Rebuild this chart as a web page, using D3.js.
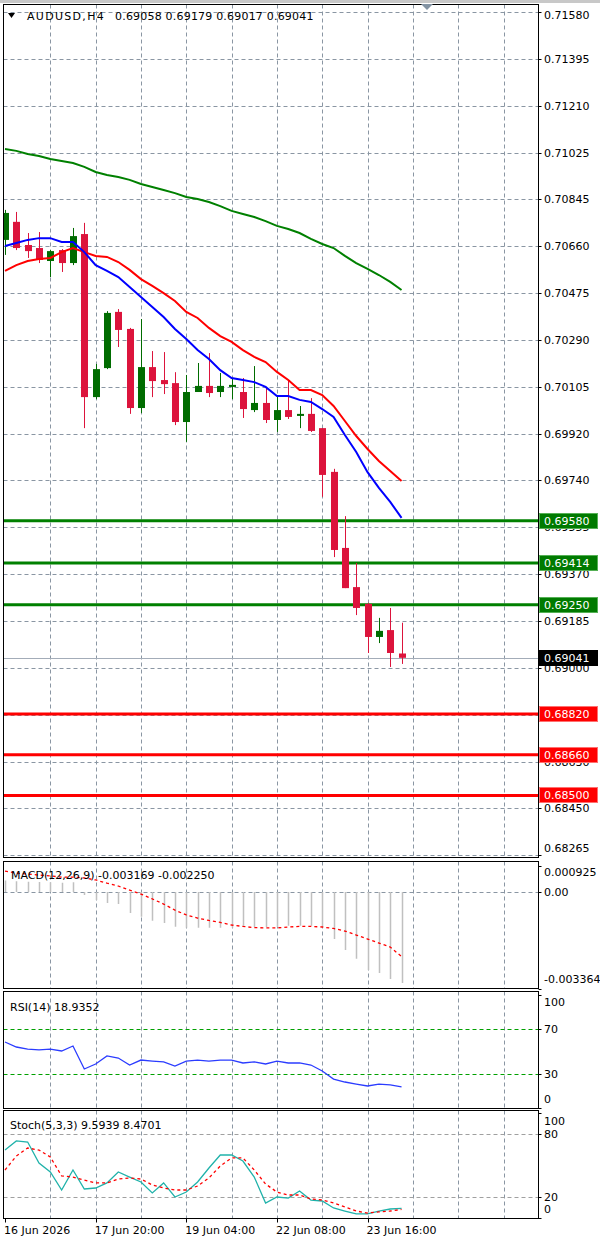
<!DOCTYPE html>
<html>
<head>
<meta charset="utf-8">
<script src="https://cdn.jsdelivr.net/npm/d3@7"></script>
<style>
body { margin: 0; background: #fff; }
svg { display: block; }
text { font-family: "DejaVu Sans", sans-serif; font-size: 11px; }
</style>
</head>
<body>
<script>
// AUDUSD H4 bars, oldest first
const opens  = [0.70684,0.70755,0.70664,0.70652,0.70601,0.70644,0.70593,0.70707,0.70066,0.70180,0.70401,0.70334,0.70023,0.70184,0.70133,0.70121,0.69968,0.70086,0.70110,0.70086,0.70106,0.70086,0.70015,0.70043,0.69976,0.70015,0.69992,0.70000,0.69944,0.69772,0.69473,0.69319,0.69253,0.69123,0.69150,0.69058];
const highs  = [0.70802,0.70794,0.70711,0.70715,0.70644,0.70648,0.70731,0.70751,0.70196,0.70404,0.70412,0.70338,0.70373,0.70247,0.70243,0.70164,0.70153,0.70200,0.70239,0.70161,0.70141,0.70141,0.70188,0.70102,0.70074,0.70133,0.70031,0.70062,0.69944,0.69784,0.69598,0.69414,0.69257,0.69198,0.69237,0.69179];
const lows   = [0.70625,0.70644,0.70613,0.70593,0.70538,0.70558,0.70585,0.69944,0.70058,0.70176,0.70263,0.70000,0.70003,0.70066,0.70078,0.69956,0.69890,0.70086,0.70066,0.70066,0.70058,0.69984,0.70007,0.69964,0.69929,0.69980,0.69944,0.69929,0.69674,0.69437,0.69315,0.69209,0.69060,0.69099,0.69005,0.69017];
const closes = [0.70790,0.70652,0.70640,0.70605,0.70640,0.70593,0.70699,0.70066,0.70176,0.70397,0.70330,0.70023,0.70184,0.70129,0.70117,0.69968,0.70086,0.70110,0.70082,0.70110,0.70114,0.70019,0.70043,0.69976,0.70015,0.69988,0.70000,0.69933,0.69760,0.69465,0.69315,0.69237,0.69123,0.69147,0.69060,0.69041];

// moving averages
const maFast = [0.70660,0.70672,0.70684,0.70691,0.70691,0.70676,0.70676,0.70636,0.70585,0.70562,0.70538,0.70499,0.70460,0.70420,0.70381,0.70334,0.70294,0.70251,0.70216,0.70172,0.70141,0.70133,0.70125,0.70106,0.70070,0.70070,0.70055,0.70047,0.70019,0.69988,0.69917,0.69850,0.69771,0.69709,0.69654,0.69591];
const maSlow = [0.70562,0.70585,0.70601,0.70609,0.70613,0.70636,0.70652,0.70636,0.70621,0.70617,0.70597,0.70566,0.70530,0.70503,0.70475,0.70444,0.70401,0.70377,0.70338,0.70306,0.70283,0.70251,0.70224,0.70204,0.70165,0.70133,0.70094,0.70094,0.70074,0.70031,0.69972,0.69913,0.69862,0.69815,0.69775,0.69736];
const maLong = [0.71041,0.71034,0.71022,0.71014,0.71002,0.70994,0.70986,0.70971,0.70951,0.70939,0.70931,0.70920,0.70904,0.70892,0.70880,0.70868,0.70853,0.70845,0.70833,0.70817,0.70798,0.70786,0.70774,0.70758,0.70739,0.70727,0.70711,0.70688,0.70668,0.70652,0.70621,0.70593,0.70570,0.70546,0.70519,0.70487];

const resistance = [0.69580, 0.69414, 0.69250];
const support = [0.68820, 0.68660, 0.68500];
const lastPrice = 0.69041;

const priceTicks = [0.71580,0.71395,0.71210,0.71025,0.70845,0.70660,0.70475,0.70290,0.70105,0.69920,0.69740,0.69555,0.69370,0.69185,0.69000,0.68815,0.68630,0.68450,0.68265];

// MACD(12,26,9)
const macdHist = [0.00040,0.00038,0.00036,0.00035,0.00034,0.00032,0.00034,-0.00010,-0.00028,-0.00038,-0.00042,-0.00073,-0.00086,-0.00100,-0.00108,-0.00121,-0.00125,-0.00125,-0.00125,-0.00125,-0.00125,-0.00122,-0.00122,-0.00122,-0.00122,-0.00118,-0.00118,-0.00118,-0.00124,-0.00164,-0.00202,-0.00233,-0.00272,-0.00282,-0.00303,-0.003169];
const macdSignal = [0.00073,0.00066,0.00063,0.00059,0.00056,0.00052,0.00052,0.00049,0.00042,0.00031,0.00021,0.00007,-0.00007,-0.00024,-0.00042,-0.00063,-0.00080,-0.00091,-0.00099,-0.00106,-0.00115,-0.00120,-0.00124,-0.00125,-0.00125,-0.00122,-0.00120,-0.00120,-0.00122,-0.00127,-0.00136,-0.00150,-0.00164,-0.00178,-0.00192,-0.00225];
const macdTicks = [0.000925, 0, -0.003364];
const macdTickText = ["0.000925", "0.00", "-0.003364"];

// RSI(14)
const rsiValues = [58.5,54.1,52.3,51.5,52.3,50.6,55.0,34.7,39.1,46.2,44.4,38.2,42.6,41.7,40.9,37.3,41.7,42.6,41.7,42.6,42.6,40.0,40.9,39.1,41.7,40.0,40.0,38.2,32.9,25.8,23.2,21.4,19.7,21.4,20.6,18.94];
const rsiTicks = [100, 70, 30, 0];
const rsiLevels = [70, 30];

// Stochastic(5,3,3)
const stochMain = [64.8,73.4,72.4,52.5,44.0,26.9,45.9,27.9,28.8,33.6,44.0,39.2,34.5,24.1,33.6,20.3,25.0,34.5,47.8,60.1,60.1,54.4,39.2,14.6,20.3,19.3,26.0,17.4,16.5,9.9,7.0,4.2,4.2,7.0,8.9,9.59];
const stochSignal = [45.9,59.1,66.7,64.8,58.2,40.2,39.2,36.4,33.6,33.6,37.3,38.3,37.3,31.7,28.8,26.9,26.9,30.7,38.3,49.7,57.3,57.3,45.9,32.6,25.0,22.2,22.2,18.4,17.4,14.6,10.8,7.0,5.1,6.1,7.0,8.47];
const stochTicks = [100, 80, 20, 0];
const stochLevels = [80, 20];

const timeLabels = [
    {bar: 0, text: "16 Jun 2026"},
    {bar: 8, text: "17 Jun 20:00"},
    {bar: 16, text: "19 Jun 04:00"},
    {bar: 24, text: "22 Jun 08:00"},
    {bar: 32, text: "23 Jun 16:00"}
];

var w = 600, h = 1237;
var left = 3.5, right = 538.5;
var gridColor = "#8a96a3";

var svg = d3.select("body").append("svg").attr("width", w).attr("height", h);

// top strip of the terminal window
svg.append("rect").attr("x", 0).attr("y", 0).attr("width", w).attr("height", 3).attr("fill", "#c8c8c8");

var x = d3.scaleLinear().domain([0, 47]).range([5, 537.5]);
var gridBars = d3.range(4, 47, 4);

var panels = {
    main:  {top: 4.5, bottom: 857.5},
    macd:  {top: 861.5, bottom: 988.5},
    rsi:   {top: 991.5, bottom: 1108.5},
    stoch: {top: 1110.5, bottom: 1218.5}
};

var yPrice = d3.scaleLinear().domain([0.68265, 0.71580]).range([855.2, 12]);
var yMacd = d3.scaleLinear().domain([-0.003364, 0.000925]).range([988.5, 865.5]);
var yRsi = d3.scaleLinear().domain([0, 100]).range([1108.3, 995]);
var yStoch = d3.scaleLinear().domain([0, 100]).range([1218.4, 1112.9]);

var defs = svg.append("defs");

function makePanel(name, p) {
    defs.append("clipPath").attr("id", "clip-" + name)
        .append("rect")
        .attr("x", left).attr("y", p.top)
        .attr("width", right - left).attr("height", p.bottom - p.top);
    var g = svg.append("g").attr("clip-path", "url(#clip-" + name + ")");
    // vertical grid
    g.selectAll("line.vgrid")
        .data(gridBars).enter()
        .append("line")
        .attr("class", "vgrid")
        .attr("x1", d => Math.round(x(d)) + 0.5)
        .attr("x2", d => Math.round(x(d)) + 0.5)
        .attr("y1", p.top).attr("y2", p.bottom)
        .attr("stroke", gridColor)
        .attr("stroke-dasharray", "4,3");
    return g;
}

function hGrid(g, values, scale, color) {
    g.selectAll(null)
        .data(values).enter()
        .append("line")
        .attr("x1", left).attr("x2", right)
        .attr("y1", d => Math.round(scale(d)) + 0.5)
        .attr("y2", d => Math.round(scale(d)) + 0.5)
        .attr("stroke", color)
        .attr("stroke-dasharray", "4,3");
}

function frame(p) {
    svg.append("rect")
        .attr("x", left).attr("y", p.top)
        .attr("width", right - left).attr("height", p.bottom - p.top)
        .attr("fill", "none").attr("stroke", "#000");
}

function axisLabels(p, values, texts, scale) {
    var g = svg.append("g");
    g.selectAll("line")
        .data(values).enter()
        .append("line")
        .attr("x1", right).attr("x2", right + 3)
        .attr("y1", d => Math.round(scale(d)) + 0.5)
        .attr("y2", d => Math.round(scale(d)) + 0.5)
        .attr("stroke", "#000");
    g.selectAll("text")
        .data(values).enter()
        .append("text")
        .attr("x", 544)
        .attr("y", d => Math.max(p.top + 11, Math.min(p.bottom - 9, scale(d))))
        .attr("dy", "0.35em")
        .text((d, i) => texts[i]);
}

// ---------- main price panel ----------
var pm = panels.main;
var gMain = makePanel("main", pm);
hGrid(gMain, priceTicks, yPrice, gridColor);

// support / resistance lines
gMain.selectAll("line.res")
    .data(resistance).enter()
    .append("line")
    .attr("x1", left).attr("x2", right)
    .attr("y1", d => yPrice(d)).attr("y2", d => yPrice(d))
    .attr("stroke", "#008000").attr("stroke-width", 3);

gMain.selectAll("line.sup")
    .data(support).enter()
    .append("line")
    .attr("x1", left).attr("x2", right)
    .attr("y1", d => yPrice(d)).attr("y2", d => yPrice(d))
    .attr("stroke", "#ff0000").attr("stroke-width", 3);

// bid line
gMain.append("line")
    .attr("x1", left).attr("x2", right)
    .attr("y1", Math.round(yPrice(lastPrice)) + 0.5).attr("y2", Math.round(yPrice(lastPrice)) + 0.5)
    .attr("stroke", "#a3acb8");

// candles
var bullColor = "#006c00", bearColor = "#dc143c";
var candles = gMain.selectAll("g.candle")
    .data(opens).enter()
    .append("g")
    .attr("fill", (d, i) => closes[i] >= d ? bullColor : bearColor)
    .attr("stroke", (d, i) => closes[i] >= d ? bullColor : bearColor);

candles.append("line")
    .attr("x1", (d, i) => Math.round(x(i)) + 0.5)
    .attr("x2", (d, i) => Math.round(x(i)) + 0.5)
    .attr("y1", (d, i) => yPrice(highs[i]))
    .attr("y2", (d, i) => yPrice(lows[i]));

candles.append("rect")
    .attr("stroke", "none")
    .attr("x", (d, i) => Math.round(x(i)) - 3)
    .attr("width", 7)
    .attr("y", (d, i) => yPrice(Math.max(d, closes[i])))
    .attr("height", (d, i) => Math.max(2, yPrice(Math.min(d, closes[i])) - yPrice(Math.max(d, closes[i]))));

// moving averages
var priceLine = d3.line().x((d, i) => x(i)).y(d => yPrice(d));
[[maLong, "#008000"], [maSlow, "#ff0000"], [maFast, "#0000ff"]].forEach(function (m) {
    gMain.append("path")
        .attr("d", priceLine(m[0]))
        .attr("fill", "none")
        .attr("stroke", m[1])
        .attr("stroke-width", 2);
});

frame(pm);
axisLabels(pm, priceTicks, priceTicks.map(d => d.toFixed(5)), yPrice);

// level price tags
function tag(value, fill, border) {
    var yy = Math.round(yPrice(value));
    svg.append("rect")
        .attr("x", 539.5).attr("y", yy - 7.5)
        .attr("width", 58).attr("height", 15)
        .attr("fill", fill).attr("stroke", border);
    svg.append("text")
        .attr("x", 544).attr("y", yy)
        .attr("dy", "0.36em")
        .attr("fill", "#fff")
        .text(value.toFixed(5));
}
resistance.forEach(v => tag(v, "#007a00", "#55b055"));
support.forEach(v => tag(v, "#ff0000", "#ff7070"));
tag(lastPrice, "#000", "#000");

// chart shift marker
svg.append("path").attr("d", "M421,4 L433,4 L427,10 Z").attr("fill", "#8393a3");

// title
svg.append("path").attr("d", "M8,13 L15,13 L11.5,18 Z").attr("fill", "#000");
svg.append("text").attr("x", 27).attr("y", 16).attr("dy", "0.35em").attr("letter-spacing", "1.3px").text("AUDUSD,H4");
svg.append("text").attr("x", 115).attr("y", 16).attr("dy", "0.35em").attr("letter-spacing", "0.2px")
    .text(opens[35].toFixed(5) + " " + highs[35].toFixed(5) + " " + lows[35].toFixed(5) + " " + closes[35].toFixed(5));

// ---------- MACD ----------
var pmacd = panels.macd;
var gMacd = makePanel("macd", pmacd);
hGrid(gMacd, [0], yMacd, gridColor);

gMacd.selectAll("line.hist")
    .data(macdHist).enter()
    .append("line")
    .attr("x1", (d, i) => Math.round(x(i)) + 0.5)
    .attr("x2", (d, i) => Math.round(x(i)) + 0.5)
    .attr("y1", yMacd(0))
    .attr("y2", d => yMacd(d))
    .attr("stroke", "#c0c0c0")
    .attr("stroke-width", 1.5);

gMacd.append("path")
    .attr("d", d3.line().x((d, i) => x(i)).y(d => yMacd(d))(macdSignal))
    .attr("fill", "none")
    .attr("stroke", "#ff0000")
    .attr("stroke-width", 1.3)
    .attr("stroke-dasharray", "3,3");

frame(pmacd);
axisLabels(pmacd, macdTicks, macdTickText, yMacd);
svg.append("text").attr("x", 11).attr("y", 875).attr("dy", "0.35em")
    .text("MACD(12,26,9) " + macdHist[35].toFixed(6) + " " + macdSignal[35].toFixed(6));

// ---------- RSI ----------
var prsi = panels.rsi;
var gRsi = makePanel("rsi", prsi);
hGrid(gRsi, rsiLevels, yRsi, "#00a000");

gRsi.append("path")
    .attr("d", d3.line().x((d, i) => x(i)).y(d => yRsi(d))(rsiValues))
    .attr("fill", "none")
    .attr("stroke", "#2b3cff")
    .attr("stroke-width", 1.3);

frame(prsi);
axisLabels(prsi, rsiTicks, rsiTicks.map(String), yRsi);
svg.append("text").attr("x", 10).attr("y", 1007).attr("dy", "0.35em").text("RSI(14) 18.9352");

// ---------- Stochastic ----------
var pst = panels.stoch;
var gSt = makePanel("stoch", pst);
hGrid(gSt, stochLevels, yStoch, "#a0a0a0");

gSt.append("path")
    .attr("d", d3.line().x((d, i) => x(i)).y(d => yStoch(d))(stochMain))
    .attr("fill", "none")
    .attr("stroke", "#20b2aa")
    .attr("stroke-width", 1.3);

gSt.append("path")
    .attr("d", d3.line().x((d, i) => x(i)).y(d => yStoch(d))(stochSignal))
    .attr("fill", "none")
    .attr("stroke", "#ff0000")
    .attr("stroke-width", 1.3)
    .attr("stroke-dasharray", "3,3");

frame(pst);
axisLabels(pst, stochTicks, stochTicks.map(String), yStoch);
svg.append("text").attr("x", 10).attr("y", 1125).attr("dy", "0.35em").text("Stoch(5,3,3) 9.5939 8.4701");

// ---------- time axis ----------
svg.selectAll("line.tick")
    .data(timeLabels).enter()
    .append("line")
    .attr("x1", d => Math.round(x(d.bar)) + 0.5)
    .attr("x2", d => Math.round(x(d.bar)) + 0.5)
    .attr("y1", pst.bottom).attr("y2", pst.bottom + 4)
    .attr("stroke", "#000");

svg.selectAll("text.time")
    .data(timeLabels).enter()
    .append("text")
    .attr("x", d => x(d.bar) - 1)
    .attr("y", 1230)
    .attr("dy", "0.35em")
    .text(d => d.text);
</script>
</body>
</html>
